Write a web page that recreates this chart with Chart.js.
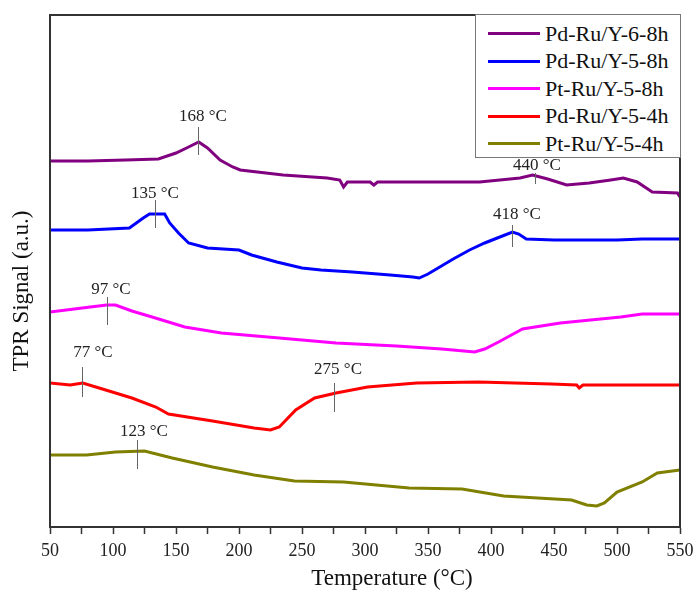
<!DOCTYPE html>
<html>
<head>
<meta charset="utf-8">
<script src="https://cdn.jsdelivr.net/npm/chart.js@4.4.0/dist/chart.umd.min.js"></script>
<style>
  body { margin: 0; background: #fff; }
  #wrap { position: relative; width: 696px; height: 595px; }
  #legend {
    position: absolute; left: 475px; top: 14px; width: 204px; height: 137px;
    border: 1px solid #777; background: #fff; padding-top: 5px; box-sizing: content-box;
    font-family: "Liberation Serif", serif; font-size: 22px; color: #111;
  }
  #legend .row { display: flex; align-items: center; height: 27.5px; padding-left: 12px; }
  #legend .swatch { width: 52px; height: 3px; margin-right: 5px; }
</style>
</head>
<body>
<div id="wrap">
  <canvas id="myChart" width="696" height="595"></canvas>
  <div id="legend"></div>
</div>
<script>
// temperatures (°C) and signal (a.u.)
const labels = ['Pd-Ru/Y-6-8h', 'Pd-Ru/Y-5-8h', 'Pt-Ru/Y-5-8h', 'Pd-Ru/Y-5-4h', 'Pt-Ru/Y-5-4h'];
const colors = ['#800080', '#0000ff', '#ff00ff', '#ff0000', '#808000'];

const tPd68 = [50, 80, 110, 136, 150, 160, 168, 175, 185, 195, 201, 235, 270, 280, 283, 286, 304, 307, 310, 336, 391, 423, 433, 445, 460, 478, 495, 505, 516, 528, 548, 550];
const sPd68 = [366, 366, 367, 368, 374, 380, 385, 379, 367, 360, 357, 352, 349, 347, 340, 345, 345, 342, 345, 345, 345, 349, 352, 348, 342, 344, 347, 349, 345, 335, 334, 330];

const tPd58 = [50, 80, 113, 124, 129, 141, 145, 152, 160, 175, 200, 210, 230, 250, 265, 290, 320, 338, 343, 350, 358, 370, 383, 395, 405, 417, 422, 428, 450, 500, 520, 550];
const sPd58 = [297, 297, 299, 309, 313, 313, 304, 294, 284, 279, 277, 272, 265, 259, 257, 255, 252, 250, 249, 253, 259, 268, 277, 284, 289, 295, 293, 288, 287, 287, 288, 288];

const tPt58 = [50, 82, 95, 102, 115, 131, 157, 186, 232, 277, 325, 361, 387, 395, 406, 425, 455, 503, 520, 550];
const sPt58 = [215, 220, 222, 222, 216, 210, 200, 194, 189, 184, 181, 178, 175, 178, 185, 198, 204, 210, 213, 213];

const tPd54 = [50, 66, 76, 89, 115, 134, 144, 179, 212, 225, 232, 245, 260, 277, 302, 341, 390, 448, 468, 470, 473, 550];
const sPd54 = [144, 142, 144, 139, 129, 120, 113, 106, 99, 97, 100, 117, 129, 134, 140, 144, 145, 143, 142, 139, 142, 142];

const tPt54 = [50, 79, 102, 125, 147, 179, 212, 244, 283, 335, 377, 410, 464, 476, 484, 490, 500, 520, 532, 550];
const sPt54 = [72, 72, 75, 76, 69, 60, 52, 46, 45, 39, 38, 31, 27, 22, 21, 24, 35, 45, 54, 57];

// peak markers: position, marker top/bottom, text, text position
const peakT = [167.5, 133, 435, 417, 95, 75, 275, 119];
const peakTop = [400, 327, 354, 302, 230, 160, 144, 87];
const peakBottom = [372, 299, 343, 280, 202, 130, 115, 58];
const peakText = ['168 °C', '135 °C', '440 °C', '418 °C', '97 °C', '77 °C', '275 °C', '123 °C'];
const peakTextT = [171.4, 133.3, 436.5, 420.6, 98.4, 84.1, 278.6, 124.6];
const peakTextS = [410, 333, 361, 312, 237, 174, 157, 95];

const xTitle = 'Temperature (°C)';
const yTitle = 'TPR Signal (a.u.)';

const temps = [tPd68, tPd58, tPt58, tPd54, tPt54];
const signals = [sPd68, sPd58, sPt58, sPd54, sPt54];

const serif = '"Liberation Serif", "Times New Roman", serif';

const frame = {
    id: 'frame',
    afterDraw: (chart) => {
        const {ctx, chartArea: a, scales} = chart;
        ctx.save();
        // peak markers and labels
        ctx.strokeStyle = '#666';
        ctx.lineWidth = 1;
        ctx.fillStyle = '#222';
        ctx.font = '17px ' + serif;
        ctx.textAlign = 'center';
        ctx.textBaseline = 'middle';
        peakT.forEach((t, i) => {
            const x = Math.round(scales.x.getPixelForValue(t)) + 0.5;
            ctx.beginPath();
            ctx.moveTo(x, scales.y.getPixelForValue(peakTop[i]));
            ctx.lineTo(x, scales.y.getPixelForValue(peakBottom[i]));
            ctx.stroke();
            ctx.fillText(peakText[i], scales.x.getPixelForValue(peakTextT[i]), scales.y.getPixelForValue(peakTextS[i]));
        });
        // axis titles (sit a bit off-centre in the original)
        ctx.fillStyle = '#111';
        ctx.font = '23px ' + serif;
        ctx.fillText(xTitle, 392, 579);
        ctx.translate(22, 291);
        ctx.rotate(-Math.PI / 2);
        ctx.fillText(yTitle, 0, 0);
        ctx.restore();

        // box round the plot
        ctx.save();
        ctx.strokeStyle = '#333';
        ctx.lineWidth = 2;
        ctx.strokeRect(a.left, a.top, a.right - a.left, a.bottom - a.top);
        ctx.restore();
    }
};

const ctx = document.getElementById('myChart').getContext('2d');
const myChart = new Chart(ctx, {
    type: 'line',
    data: {
        datasets: labels.map((label, i) => ({
            label,
            data: temps[i].map((t, j) => ({x: t, y: signals[i][j]})),
            borderColor: colors[i],
            backgroundColor: colors[i],
            borderWidth: 3,
            pointRadius: 0,
            tension: 0,
            fill: false
        }))
    },
    options: {
        responsive: false,
        animation: false,
        layout: { padding: { top: 15, right: 16, left: 0, bottom: 0 } },
        plugins: { legend: { display: false }, tooltip: { enabled: false } },
        scales: {
            x: {
                type: 'linear',
                min: 50,
                max: 550,
                afterFit: (scale) => {
                    scale.height = 68;
                    scale.paddingLeft = 0;
                    scale.paddingRight = 0;
                },
                border: { color: '#333', width: 2 },
                grid: { drawOnChartArea: false, tickLength: 7, tickColor: '#333', tickWidth: 1.5 },
                ticks: {
                    stepSize: 25,
                    autoSkip: false,
                    maxRotation: 0,
                    padding: 6,
                    color: '#222',
                    font: { family: serif, size: 18 },
                    callback: (value) => value % 50 === 0 ? value : ''
                }
            },
            y: {
                min: 0,
                max: 512,
                afterFit: (scale) => { scale.width = 50; },
                border: { color: '#333', width: 2 },
                grid: { display: false },
                ticks: { display: false }
            }
        }
    },
    plugins: [frame]
});

// legend box inside the plot
const legend = document.getElementById('legend');
labels.forEach((label, i) => {
    const row = document.createElement('div');
    row.className = 'row';
    const sw = document.createElement('span');
    sw.className = 'swatch';
    sw.style.background = colors[i];
    const txt = document.createElement('span');
    txt.textContent = label;
    row.appendChild(sw);
    row.appendChild(txt);
    legend.appendChild(row);
});
</script>
</body>
</html>
